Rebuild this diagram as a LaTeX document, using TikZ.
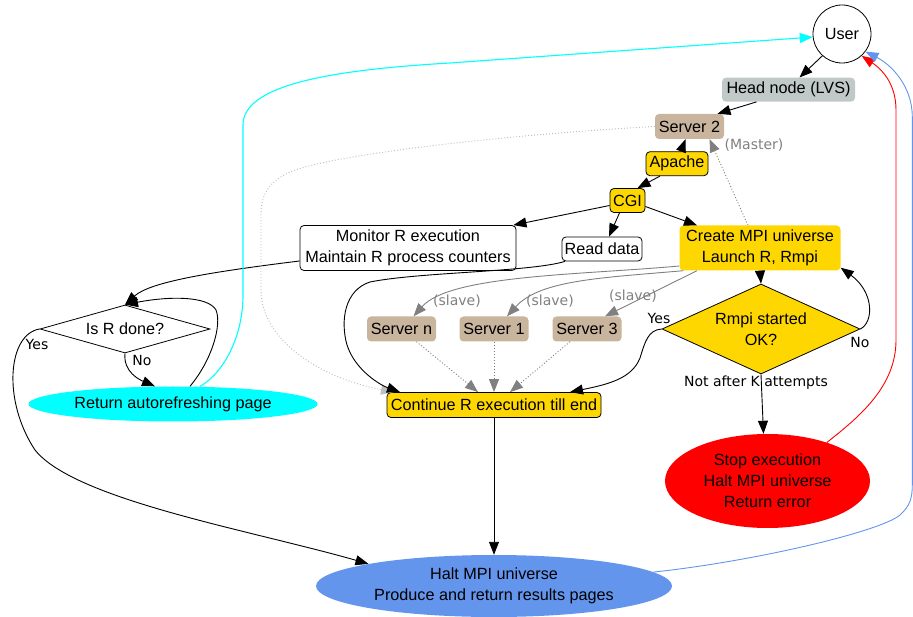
\documentclass[tikz,border=0pt]{standalone}
\usepackage{fontspec}
\setmainfont{Liberation Sans}
\newfontfamily\lblfont{DejaVu Sans}
\usetikzlibrary{shapes.geometric,arrows.meta}
\definecolor{gold}{RGB}{255,215,0}
\definecolor{tanfill}{RGB}{201,180,157}
\definecolor{headgray}{RGB}{192,200,200}
\definecolor{cornflower}{RGB}{100,149,237}
\definecolor{edgegray}{RGB}{128,128,128}
\definecolor{lightdot}{RGB}{190,190,190}
\definecolor{pcyan}{RGB}{0,255,255}
\definecolor{pred}{RGB}{255,0,0}
\begin{document}
\begin{tikzpicture}[x=1pt,y=-1pt,
  every node/.style={font=\fontsize{16.2}{21}\selectfont, inner sep=0pt, align=center},
  box/.style={rectangle, rounded corners=4pt, minimum height=24pt},
  goldbox/.style={box, fill=gold, draw=black, line width=0.8pt},
  whitebox/.style={box, fill=white, draw=black, line width=0.8pt},
  tanbox/.style={box, fill=tanfill, minimum width=69pt, minimum height=25pt},
  lbl/.style={font=\lblfont\fontsize{14}{17}\selectfont},
  slbl/.style={lbl, text=edgegray},
  tip/.style={-{Triangle[length=13pt,width=10pt]}},
  arr/.style={tip, draw=black, line width=0.9pt},
  garr/.style={tip, draw=edgegray, line width=0.9pt},
  dotline/.style={dash pattern=on 1pt off 2pt}
]
\useasboundingbox (0,0) rectangle (913,617);

% nodes
\node[circle, draw=black, fill=white, line width=0.8pt, minimum size=58pt] (user) at (842,34) {User};
\node[box, fill=headgray, minimum width=133pt] (head) at (788.5,89.7) {Head node (LVS)};
\node[tanbox] (srv2) at (689.5,126.5) {Server 2};
\node[goldbox, minimum width=62pt] (apache) at (677,163.7) {Apache};
\node[goldbox, minimum width=35pt] (cgi) at (627.5,200.5) {CGI};
\node[whitebox, minimum width=216pt, minimum height=45pt] (mon) at (408,248) {Monitor R execution\\Maintain R process counters};
\node[whitebox, minimum width=80pt] (read) at (602,249) {Read data};
\node[box, fill=gold, minimum width=161pt, minimum height=45pt] (create) at (760,248) {Create MPI universe\\Launch R, Rmpi};
\node[tanbox] (srvn) at (401.5,329) {Server n};
\node[tanbox] (srv1) at (494,329) {Server 1};
\node[tanbox] (srv3) at (587,329) {Server 3};
\node[diamond, aspect=2.2, draw=black, fill=gold, line width=0.8pt, minimum width=198pt, minimum height=90pt] (rmpi) at (761,329) {Rmpi started\\OK?};
\node[diamond, aspect=3.5, draw=black, fill=white, line width=0.8pt, minimum width=170pt, minimum height=48pt] (isr) at (125,329) {Is R done?};
\node[ellipse, fill=pcyan, minimum width=289pt, minimum height=35pt] (ret) at (173,404) {Return autorefreshing page};
\node[goldbox, minimum width=214pt, minimum height=25pt] (cont) at (494,405) {Continue R execution till end};
\node[ellipse, fill=pred, minimum width=205pt, minimum height=94pt] (stop) at (767.5,481) {Stop execution\\Halt MPI universe\\Return error};
\node[ellipse, fill=cornflower, minimum width=356pt, minimum height=62pt] (halt) at (494,586) {Halt MPI universe\\Produce and return results pages};

% edges
\draw[arr] (user.228) -- ([xshift=11pt]head.north);
\draw[arr] ([xshift=-32pt]head.south) -- ([xshift=28pt]srv2.north);
\draw[arr] ([xshift=4pt]apache.north) -- ([xshift=-4pt]srv2.south);
\draw[arr] ([xshift=-17pt]apache.south) -- ([xshift=10pt]cgi.north);
\draw[garr, dotline] ([xshift=-12pt]create.north) -- ([xshift=20pt]srv2.south);
\node[slbl] (master) at (754,145) {(Master)};
\draw[arr] ([yshift=-5pt]cgi.west) -- ([xshift=-3pt]mon.north east);
\draw[arr] ([xshift=-8pt]cgi.south) -- ([xshift=7pt]read.north);
\draw[arr] ([yshift=-6pt]cgi.east) -- ([xshift=-63pt]create.north);

\draw[arr] ([yshift=-13pt]mon.west) .. controls (210,272) and (150,282) .. (isr.north);
\draw[arr] ([xshift=17pt]ret.north) .. controls (212,360) and (222,325) .. (216,310) .. controls (208,296) and (170,296) .. (isr.north);
\draw[arr] (isr.south) .. controls (123,372) and (140,380) .. ([xshift=-18pt]ret.north);
\node[lbl] (no1) at (142,360) {No};
\draw[arr] (isr.west) .. controls (8,334) and (2,400) .. (35,450) .. controls (75,500) and (250,530) .. (halt.170);
\node[lbl] (yes1) at (37,344) {Yes};

\draw[lightdot, dotline, line width=0.9pt, tip] (srv2.west) .. controls (500,135) and (330,155) .. (290,172) .. controls (268,182) and (261,195) .. (261,215) -- (261,290) .. controls (261,340) and (320,378) .. ([xshift=-100pt]cont.north);
\draw[arr] ([xshift=-37pt]read.south) .. controls (530,272) and (420,272) .. (370,282) .. controls (345,290) and (340,320) .. (347,345) .. controls (355,370) and (380,385) .. ([xshift=-94pt]cont.north);

\draw[garr] ([yshift=-18pt]create.west) .. controls (580,275) and (450,275) .. ([xshift=12pt]srvn.north);
\draw[garr] ([xshift=4pt]create.south west) .. controls (600,278) and (540,280) .. ([xshift=13pt]srv1.north);
\draw[garr] ([xshift=-63pt]create.south) -- ([xshift=18pt]srv3.north);
\node[slbl] (sl1) at (457,301) {(slave)};
\node[slbl] (sl2) at (550,301) {(slave)};
\node[slbl] (sl3) at (633,296) {(slave)};

\draw[garr, dotline] ([xshift=15pt]srvn.south) -- ([xshift=-16pt]cont.north);
\draw[garr, dotline] (srv1.south) -- (cont.north);
\draw[garr, dotline] ([xshift=-17pt]srv3.south) -- ([xshift=16pt]cont.north);

\draw[arr] (create.south) -- (rmpi.north);
\draw[arr] (rmpi.east) .. controls (874,322) and (874,292) .. ([yshift=3pt]create.south east);
\node[lbl] (no2) at (860,342) {No};
\draw[arr] (rmpi.south) -- ([xshift=-4pt]stop.north);
\node[lbl] (notk) at (756,383) {Not after K attempts};
\draw[arr] (rmpi.west) .. controls (648,330) and (645,342) .. (640,358) .. controls (632,378) and (610,384) .. ([xshift=76pt]cont.north);
\node[lbl] (yes2) at (659,318) {Yes};

\draw[arr] (cont.south) -- (halt.north);

\draw[pcyan, line width=1.1pt, tip] (ret.33) .. controls (225,372) and (243,335) .. (243,295) -- (243,125) .. controls (243,85) and (330,70) .. (450,63) -- (user.186);
\draw[pred, line width=0.9pt, tip] (stop.33) .. controls (862,415) and (896,385) .. (896,340) -- (896,110) .. controls (896,82) and (880,68) .. (user.-48);
\draw[cornflower, line width=0.9pt, tip] (halt.5) .. controls (750,562) and (880,532) .. (900,515) .. controls (910,506) and (912.3,498) .. (912.3,485) -- (912.3,117) .. controls (912.3,85) and (890,64) .. (user.-37);
\end{tikzpicture}
\end{document}
